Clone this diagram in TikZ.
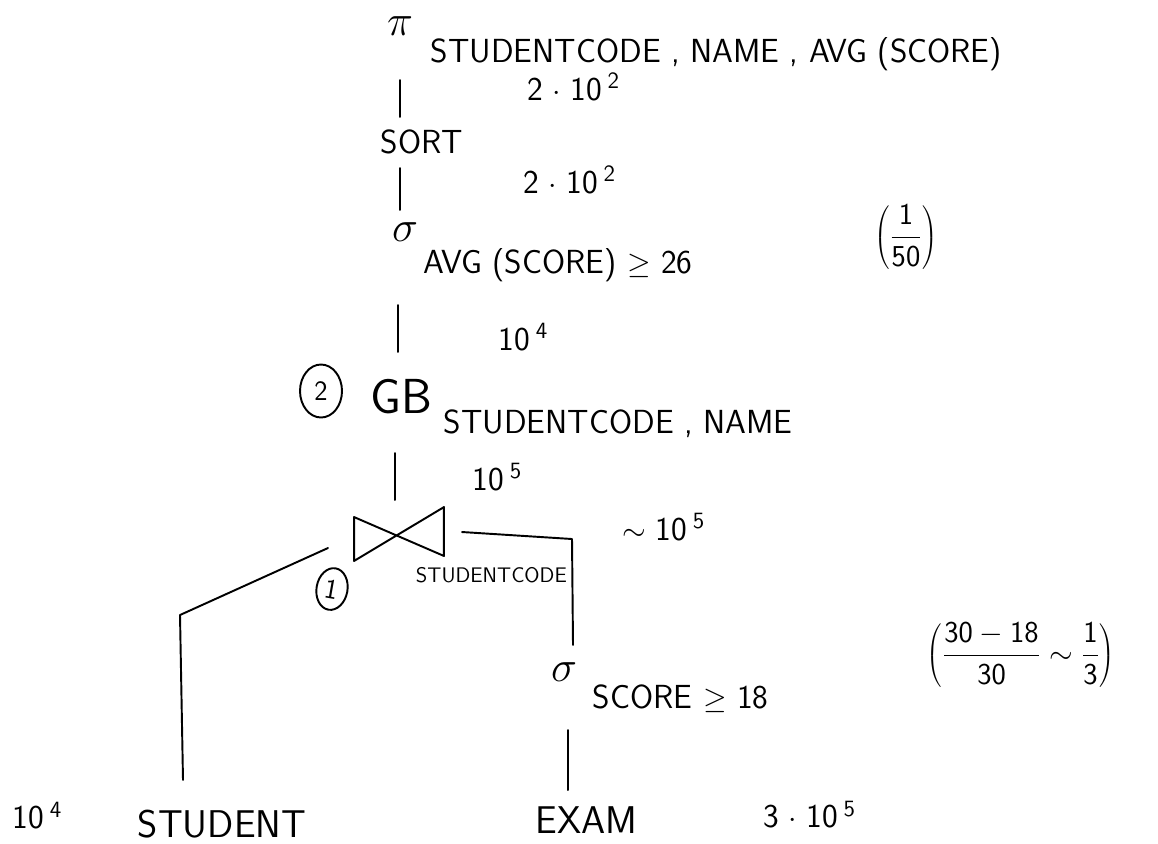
\documentclass[tikz,border=0pt]{standalone}
\usetikzlibrary{shapes.geometric,calc}
\begin{document}
\begin{tikzpicture}[x=0.02cm,y=-0.02cm,line width=1.1pt,line cap=round,line join=round,
  hw/.style={font=\sffamily\fontsize{19}{21}\selectfont,inner sep=0pt,anchor=base west},
  hwbig/.style={font=\sffamily\fontsize{22}{24}\selectfont,inner sep=0pt,anchor=base west},
  hws/.style={font=\sffamily\fontsize{12}{14}\selectfont,inner sep=0pt,anchor=base west},
  opsym/.style={font=\fontsize{32}{34}\selectfont,inner sep=0pt},
  mathlbl/.style={font=\fontsize{18}{20}\selectfont,inner sep=0pt},
  circ/.style={draw,ellipse,inner sep=0pt,font=\sffamily\fontsize{16}{18}\selectfont},
  conn/.style={draw,line width=1.1pt}]
\useasboundingbox (0,0) rectangle (1158,843);

% projection
\node[opsym] (pi) at (400,26) {$\pi$};
\node[hw] (proj) at (430,62) {STUDENTCODE , NAME , AVG (SCORE)};
\node[hw] (card1) at (527,100) {2\;$\cdot$\;10\,\textsuperscript{2}};

% sort
\node[hw] (sort) at (380,153) {SORT};
\node[hw] (card2) at (523,193) {2\;$\cdot$\;10\,\textsuperscript{2}};

% selection on avg
\node[opsym] (sel1) at (405,232) {$\sigma$};
\node[hw] (cond1) at (423,273) {AVG (SCORE) $\geq$ 26};
\node[mathlbl] (frac1) at (906,237) {$\displaystyle\left(\frac{\mathsf{1}}{\mathsf{50}}\right)$};
\node[hw] (card3) at (498,350) {10\,\textsuperscript{4}};

% group by
\node[circ,minimum width=0.84cm,minimum height=1.06cm] (n2) at (321,391) {2};
\node[font=\sffamily\fontsize{28}{30}\selectfont,inner sep=0pt,anchor=base west] (gb) at (370,413) {GB};
\node[hw] (grp) at (443,433) {STUDENTCODE , NAME};
\node[hw] (card4) at (472,490) {10\,\textsuperscript{5}};
\node[hw] (card5) at (622,540) {$\sim$\;10\,\textsuperscript{5}};

% join
\node[minimum width=1.76cm,minimum height=1.04cm,inner sep=0pt] (join) at (399,534) {};
\draw ($(join.north west)+(0,10)$) -- ($(join.south east)+(0,-5)$) -- (join.north east) -- (join.south west) -- cycle;
\node[hws] (jattr) at (415,582) {STUDENTCODE};
\node[circ,minimum width=0.62cm,minimum height=0.84cm,rotate=-10] (n1) at (332,589) {1};

% selection on score
\node[opsym] (sel2) at (564,672) {$\sigma$};
\node[hw] (cond2) at (592,708) {SCORE $\geq$ 18};
\node[mathlbl] (frac2) at (1021,655) {$\displaystyle\left(\frac{\mathsf{30-18}}{\mathsf{30}}\sim\frac{\mathsf{1}}{\mathsf{3}}\right)$};

% leaves
\node[hwbig] (exam) at (535,833) {EXAM};
\node[hw] (card6) at (763,827) {3\;$\cdot$\;10\,\textsuperscript{5}};
\node[hw] (card7) at (12,828) {10\,\textsuperscript{4}};
\node[hwbig] (student) at (137,837) {STUDENT};

% connector end points
\coordinate (v1a) at (400,80);  \coordinate (v1b) at (400,117);
\coordinate (v2a) at (400,168); \coordinate (v2b) at (400,210);
\coordinate (v3a) at (398,305); \coordinate (v3b) at (398,352);
\coordinate (v4a) at (395,453); \coordinate (v4b) at (395,500);
\coordinate (jl) at (328,548);  \coordinate (lc) at (180,615); \coordinate (lb) at (183,780);
\coordinate (jr) at (462,532);  \coordinate (rc) at (572,539); \coordinate (rb) at (573,645);
\coordinate (ea) at (568,730);  \coordinate (eb) at (568,790);

\draw[conn] (v1a) -- (v1b);
\draw[conn] (v2a) -- (v2b);
\draw[conn] (v3a) -- (v3b);
\draw[conn] (v4a) -- (v4b);
\draw[conn] (jl) -- (lc) -- (lb);
\draw[conn] (jr) -- (rc) -- (rb);
\draw[conn] (ea) -- (eb);
\end{tikzpicture}
\end{document}
